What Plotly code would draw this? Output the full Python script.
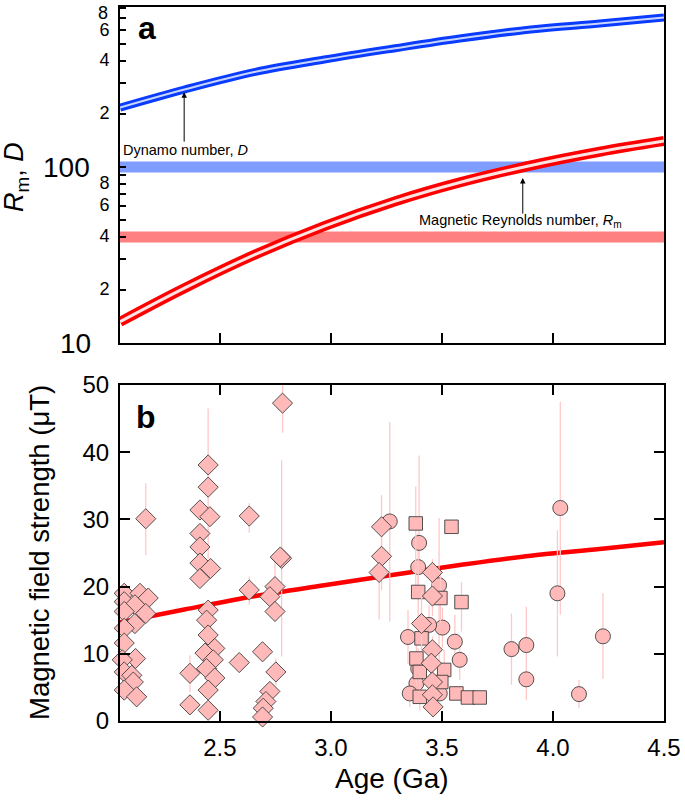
import plotly.graph_objects as go

# ---------------- panel a data ----------------
curve_age = [2.05, 2.34, 2.66, 2.97, 3.29, 3.58, 3.90, 4.21, 4.50]
dynamo_D = [218, 276, 348, 409, 474, 538, 606, 655, 709]
reynolds_Rm = [13.2, 20.5, 31.9, 46.2, 64.0, 81.8, 102.1, 122.2, 140.6]
band_age = [2.05, 4.50]
critical_D = [100, 100]
critical_Rm = [40, 40]

# ---------------- panel b data ----------------
field_model = [14.7, 16.6, 18.6, 20.2, 21.8, 23.2, 24.6, 25.6, 26.6]

dia_age = [2.069, 2.14, 2.177, 2.069, 2.117, 2.069, 2.166, 2.117, 2.069, 2.069, 2.12, 2.06, 2.069, 2.103, 2.11, 2.069, 2.125, 2.166,
           2.447, 2.447, 2.41, 2.455, 2.41, 2.41, 2.41, 2.458, 2.41, 2.447, 2.44, 2.447, 2.477, 2.433, 2.47, 2.44, 2.477, 2.447, 2.365, 2.365, 2.447,
           2.632, 2.587, 2.632, 2.778, 2.772, 2.748, 2.725, 2.748, 2.692, 2.752, 2.725, 2.707, 2.695, 2.692, 2.782,
           3.228, 3.228, 3.217, 3.457, 3.457, 3.408, 3.457, 3.452, 3.457, 3.457, 3.46]
dia_B = [19.0, 19.0, 18.3, 17.75, 17.3, 16.3, 16.0, 14.5, 13.8, 11.6, 9.3, 9.1, 7.3, 6.8, 5.8, 4.6, 3.6, 30.1,
         38.1, 34.8, 31.4, 30.4, 27.9, 25.9, 23.5, 22.7, 21.2, 16.5, 15.0, 12.8, 10.8, 10.1, 9.1, 7.8, 6.4, 4.6, 7.1, 2.4, 1.6,
         30.5, 8.7, 19.5, 24.2, 24.4, 20.0, 18.5, 16.3, 10.3, 7.3, 4.4, 2.9, 1.9, 0.6, 47.3,
         28.9, 24.5, 22.1, 22.1, 18.6, 14.5, 10.6, 8.6, 5.8, 3.9, 2.1]
dia_up = [0, 0, 0, 0, 0, 0, 0, 1.5, 0, 0, 0, 0, 0, 0, 0, 0, 0, 5.3,
          8.4, 0, 0, 0, 0, 0, 0, 0, 0, 0, 0, 0, 0, 0, 0, 0, 0, 0, 2.7, 0, 0,
          1.9, 0, 2.0, 14.6, 0, 4.0, 0, 1.5, 0, 2.0, 0, 0, 0, 0, 3.0,
          4.7, 5.0, 3.0, 2.0, 3.0, 5.0, 2.0, 2.0, 2.0, 1.5, 1.5]
dia_dn = [0, 0, 0, 0, 0, 0, 0, 1.5, 0, 0, 0, 0, 0, 0, 0, 0, 0, 5.4,
          14.0, 0, 0, 0, 0, 0, 0, 0, 0, 0, 0, 0, 0, 0, 0, 0, 0, 0, 2.8, 0, 0,
          2.5, 0, 2.2, 14.6, 0, 4.0, 0, 1.5, 0, 2.0, 0, 0, 0, 0, 4.4,
          3.0, 5.0, 7.0, 3.0, 3.0, 4.0, 2.0, 2.0, 2.0, 1.5, 1.5]

sq_age = [3.382, 3.543, 3.393, 3.493, 3.588, 3.408, 3.385, 3.51, 3.40, 3.497, 3.40, 3.565, 3.617, 3.67]
sq_B = [29.4, 28.9, 19.2, 18.3, 17.7, 12.3, 9.3, 7.6, 7.3, 5.8, 3.6, 4.1, 3.5, 3.5]
sq_up = [5.5, 0, 5, 4, 3, 3, 4, 3, 3, 2, 3, 1, 0, 0]
sq_dn = [10, 0, 5, 4, 4.4, 3, 4, 3, 3, 2, 2, 1, 0, 0]

ci_age = [3.265, 3.397, 3.393, 3.487, 3.502, 3.442, 3.347, 3.558, 3.58, 3.393, 3.385, 3.355, 3.49,
          3.813, 3.88, 3.88, 4.033, 4.02, 4.225, 4.117]
ci_B = [29.7, 26.5, 22.9, 20.2, 13.9, 14.3, 12.5, 11.8, 9.1, 7.8, 5.6, 4.1, 4.1,
        10.7, 11.3, 6.2, 31.7, 19.0, 12.6, 4.0]
ci_up = [14.8, 13, 5, 10, 3, 3, 4, 4, 3, 3, 3, 2, 0, 5.3, 5.7, 0, 15.8, 9.4, 6.4, 2.1]
ci_dn = [14.9, 4, 5, 14, 3, 3, 4, 3, 3, 3, 3, 2, 0, 5.3, 8.2, 0, 15.9, 9.4, 6.3, 2.1]

# tick labels (the top-most "8" is placed separately so it stays inside the page)
top_tickvals = [10, 20, 30, 40, 50, 60, 70, 80, 90, 100, 200, 300, 400, 500, 600, 700, 800]
top_ticktext = ["", "2", "", "4", "", "6", "", "8", "", "", "2", "", "4", "", "6", "", ""]
age_ticks = [2.5, 3.0, 3.5, 4.0, 4.5]
age_ticktext = ["2.5", "3.0", "3.5", "4.0", "4.5"]
field_ticks = [0, 10, 20, 30, 40, 50]

FONT = "Liberation Sans, Arial, Helvetica, sans-serif"
PINK = "#ffb9b9"
EDGE = "#404040"
EBAR = "#ffc8c8"

fig = go.Figure()

# ---- panel a ----
fig.add_trace(go.Scatter(x=band_age, y=critical_D, mode="lines",
                         line=dict(color="#7f9dff", width=11), xaxis="x", yaxis="y", hoverinfo="skip"))
fig.add_trace(go.Scatter(x=band_age, y=critical_Rm, mode="lines",
                         line=dict(color="#ff8080", width=11), xaxis="x", yaxis="y", hoverinfo="skip"))
fig.add_trace(go.Scatter(x=curve_age, y=dynamo_D, mode="lines", line_shape="spline",
                         line=dict(color="#0a3cff", width=8), xaxis="x", yaxis="y"))
fig.add_trace(go.Scatter(x=curve_age, y=dynamo_D, mode="lines", line_shape="spline",
                         line=dict(color="#c8d6ff", width=2), xaxis="x", yaxis="y"))
fig.add_trace(go.Scatter(x=curve_age, y=reynolds_Rm, mode="lines", line_shape="spline",
                         line=dict(color="#ff0000", width=10), xaxis="x", yaxis="y"))
fig.add_trace(go.Scatter(x=curve_age, y=reynolds_Rm, mode="lines", line_shape="spline",
                         line=dict(color="#ffe2e2", width=3), xaxis="x", yaxis="y"))

# ---- panel b ----
fig.add_trace(go.Scatter(x=curve_age, y=field_model, mode="lines", line_shape="spline",
                         line=dict(color="#ff0000", width=4.5), xaxis="x2", yaxis="y2"))


def pts(xs, ys, up, dn, symbol, size):
    return go.Scatter(x=xs, y=ys, mode="markers", xaxis="x2", yaxis="y2", cliponaxis=False,
                      marker=dict(symbol=symbol, size=size, color=PINK,
                                  line=dict(color=EDGE, width=0.9)),
                      error_y=dict(type="data", symmetric=False, array=up, arrayminus=dn,
                                   color=EBAR, thickness=1.3, width=0))


fig.add_trace(pts(ci_age, ci_B, ci_up, ci_dn, "circle", 15))
fig.add_trace(pts(sq_age, sq_B, sq_up, sq_dn, "square", 13.5))
fig.add_trace(pts(dia_age, dia_B, dia_up, dia_dn, "diamond", 15.5))

axis_common = dict(showgrid=False, zeroline=False, showline=True, linecolor="black", linewidth=2,
                   ticks="inside", tickcolor="black", tickwidth=1.8, automargin=False,
                   ticklabeloverflow="allow",
                   tickfont=dict(family=FONT, size=24, color="black"))

fig.update_layout(
    width=685, height=804,
    margin=dict(l=120, r=21, t=7, b=83, autoexpand=False),
    paper_bgcolor="white", plot_bgcolor="white",
    showlegend=False,
    font=dict(family=FONT, color="black"),
    xaxis=dict(axis_common, domain=[0, 1], anchor="y", range=[2.05, 4.5],
               tickvals=age_ticks[:-1], showticklabels=False, ticklen=10, mirror=True),
    yaxis=dict(axis_common, domain=[0.5294, 1], anchor="x", type="log", range=[1, 2.91],
               tickvals=top_tickvals, ticktext=top_ticktext, ticklen=6, mirror=True,
               tickfont=dict(family=FONT, size=18, color="black"), ticklabelstandoff=5,
               ticklabelshift=-1),
    xaxis2=dict(axis_common, domain=[0, 1], anchor="y2", range=[2.05, 4.5],
                tickvals=age_ticks, ticktext=age_ticktext, ticklen=10, mirror="ticks",
                ticklabelstandoff=4),
    yaxis2=dict(axis_common, domain=[0, 0.4706], anchor="x2", range=[0, 50],
                tickvals=field_ticks, ticklen=10, mirror="ticks", ticklabelstandoff=4),
)

ann = []
# top-most "8" label and big decade labels on top panel
ann.append(dict(text="8", xref="paper", yref="paper", x=-0.019, y=1.009, xanchor="right", yanchor="top",
                showarrow=False, font=dict(family=FONT, size=18, color="black")))
ann.append(dict(text="100", xref="paper", yref="y", x=-0.0515, y=2, xanchor="right", yanchor="middle",
                showarrow=False, font=dict(family=FONT, size=28, color="black")))
ann.append(dict(text="10", xref="paper", yref="y", x=-0.0496, y=1, xanchor="right", yanchor="middle",
                showarrow=False, font=dict(family=FONT, size=28, color="black")))
# axis titles
ann.append(dict(text="<i>R</i><sub>m</sub>, <i>D</i>", xref="paper", yref="paper", x=-0.191, y=0.762,
                xanchor="center", yanchor="middle", textangle=-90, showarrow=False,
                font=dict(family=FONT, size=27, color="black")))
ann.append(dict(text="Magnetic field strength (μT)", xref="paper", yref="paper", x=-0.147, y=0.2353,
                xanchor="center", yanchor="middle", textangle=-90, showarrow=False,
                font=dict(family=FONT, size=27.5, color="black")))
ann.append(dict(text="Age (Ga)", xref="paper", yref="paper", x=0.5, y=-0.080,
                xanchor="center", yanchor="middle", showarrow=False,
                font=dict(family=FONT, size=28, color="black")))
# panel labels
ann.append(dict(text="<b>a</b>", xref="x domain", yref="y domain", x=0.029, y=0.9375,
                xanchor="left", yanchor="middle", showarrow=False,
                font=dict(family=FONT, size=32, color="black")))
ann.append(dict(text="<b>b</b>", xref="x2 domain", yref="y2 domain", x=0.026, y=0.905,
                xanchor="left", yanchor="middle", showarrow=False,
                font=dict(family=FONT, size=32, color="black")))
# curve labels and arrows
ann.append(dict(text="Dynamo number, <i>D</i>", xref="x", yref="y", x=2.054, y=2.097,
                xanchor="left", yanchor="middle", showarrow=False,
                font=dict(family=FONT, size=14.5, color="black")))
ann.append(dict(text="", xref="x", yref="y", x=2.339, y=2.426, ax=0, ay=51,
                showarrow=True, arrowhead=2, arrowsize=1.1, arrowwidth=1, arrowcolor="black"))
ann.append(dict(text="Magnetic Reynolds number, <i>R</i><sub>m</sub>", xref="x", yref="y", x=3.386, y=1.693,
                xanchor="left", yanchor="middle", showarrow=False,
                font=dict(family=FONT, size=14.5, color="black")))
ann.append(dict(text="", xref="x", yref="y", x=3.864, y=1.9375, ax=0, ay=37,
                showarrow=True, arrowhead=2, arrowsize=1.1, arrowwidth=1, arrowcolor="black"))
fig.update_layout(annotations=ann)

fig.write_html("out.html", config={"displayModeBar": False},
               post_script="document.body.style.margin='0';document.body.style.padding='0';")
